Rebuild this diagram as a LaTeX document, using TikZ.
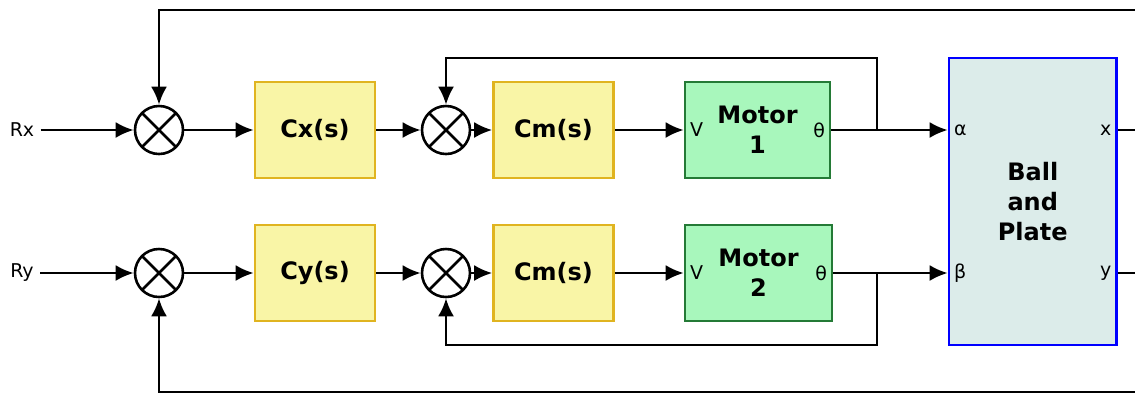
\documentclass[tikz,border=0pt]{standalone}
\usepackage{fontspec}
\setmainfont{DejaVu Sans}
\usetikzlibrary{arrows.meta}
\definecolor{ctrlfill}{HTML}{F9F5A6}
\definecolor{ctrldraw}{HTML}{E0B420}
\definecolor{motfill}{HTML}{A8F7BC}
\definecolor{motdraw}{HTML}{247A36}
\definecolor{plantfill}{HTML}{DCECEA}

\begin{document}
\begin{tikzpicture}[
  x=0.5pt, y=-0.5pt,
  blk/.style={draw, line width=1.3pt, align=center, inner sep=0pt,
              font=\fontsize{12}{15}\selectfont\bfseries},
  ctrl/.style={blk, fill=ctrlfill, draw=ctrldraw,
               minimum width=60pt, minimum height=48pt},
  motor/.style={blk, fill=motfill, draw=motdraw,
                minimum width=72.5pt, minimum height=48pt},
  plantb/.style={blk, fill=plantfill, draw=blue,
                 minimum width=83.75pt, minimum height=143.5pt},
  summer/.style={draw, circle, line width=1.3pt, minimum size=24pt,
                 inner sep=0pt, fill=white,
                 path picture={
                   \draw[line width=1.3pt]
                     (path picture bounding box.north west) --
                     (path picture bounding box.south east)
                     (path picture bounding box.north east) --
                     (path picture bounding box.south west);}},
  port/.style={font=\fontsize{9.5}{11}\selectfont, inner xsep=3pt,
               inner ysep=1pt},
  ar/.style={-{Latex[length=9pt, width=8pt]}, line width=1.3pt},
  ln/.style={line width=1.3pt}
]
\useasboundingbox (0,0) rectangle (1135,393);

% x channel
\node[port] (rx) at (22,130) {Rx};
\node[summer] (sxa) at (159,130) {};
\node[ctrl] (cx) at (315,130) {Cx(s)};
\node[summer] (sxb) at (446,130) {};
\node[ctrl] (cmx) at (553.5,130) {Cm(s)};
\node[motor] (motx) at (757.5,130) {Motor\\1};
\node[port, anchor=west] (vx) at (motx.west) {V};
\node[port, anchor=east] (thx) at (motx.east) {θ};

% y channel
\node[port] (ry) at (22,273) {Ry};
\node[summer] (sya) at (159,273) {};
\node[ctrl] (cy) at (315,273) {Cy(s)};
\node[summer] (syb) at (446,273) {};
\node[ctrl] (cmy) at (553.5,273) {Cm(s)};
\node[motor, minimum width=73.5pt] (moty) at (758.5,273) {Motor\\2};
\node[port, anchor=west] (vy) at (moty.west) {V};
\node[port, anchor=east] (thy) at (moty.east) {θ};

% plant
\node[plantb] (plant) at (1032.75,201.5) {Ball\\and\\Plate};
\node[port, anchor=west] (alpha) at (plant.west |- motx) {α};
\node[port, anchor=west] (beta) at (plant.west |- moty) {β};
\node[port, anchor=east] (xout) at (plant.east |- motx) {x};
\node[port, anchor=east] (yout) at (plant.east |- moty) {y};

\coordinate (brx) at (877,130);
\coordinate (bry) at (877,273);
\coordinate (xend) at (1135,130);
\coordinate (yend) at (1135,273);
\coordinate (fbx) at (1135,10);
\coordinate (fby) at (1135,392);

\draw[ar] (rx) -- (sxa);
\draw[ar] (sxa) -- (cx);
\draw[ar] (cx) -- (sxb);
\draw[ar] (sxb) -- (cmx);
\draw[ar] (cmx) -- (motx);
\draw[ar] (motx) -- (alpha.west);
\draw[ar] (brx) -- ++(0,-72) -| (sxb);
\draw[ln] (xout.east) -- (xend);
\draw[ar] (fbx) -| (sxa);

\draw[ar] (ry) -- (sya);
\draw[ar] (sya) -- (cy);
\draw[ar] (cy) -- (syb);
\draw[ar] (syb) -- (cmy);
\draw[ar] (cmy) -- (moty);
\draw[ar] (moty) -- (beta.west);
\draw[ar] (bry) -- ++(0,72) -| (syb);
\draw[ln] (yout.east) -- (yend);
\draw[ar] (fby) -| (sya);

\end{tikzpicture}
\end{document}
